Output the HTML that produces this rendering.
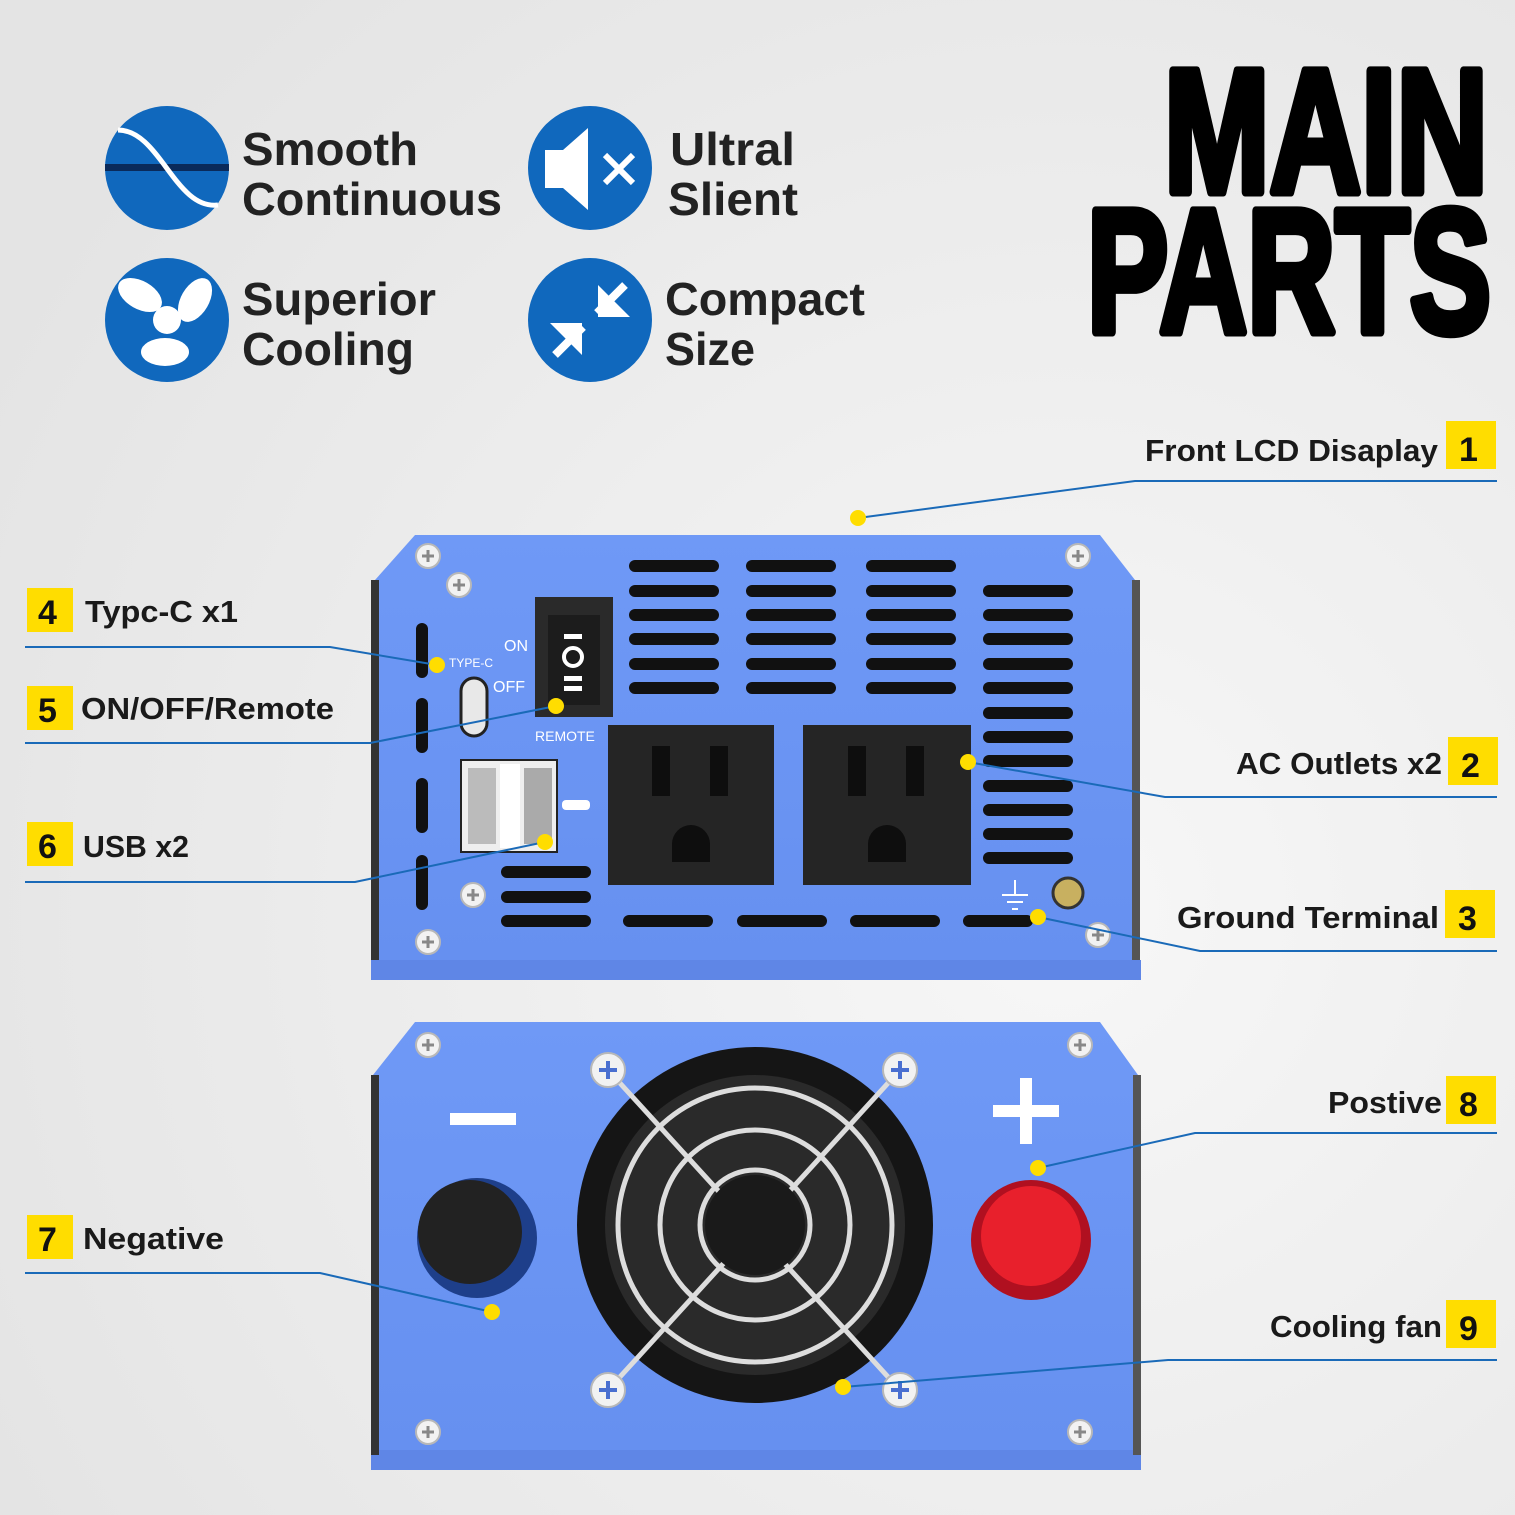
<!DOCTYPE html>
<html><head><meta charset="utf-8"><style>
html,body{margin:0;padding:0;width:1515px;height:1515px;overflow:hidden;background:#ececec}
svg{display:block}
text{font-family:"Liberation Sans",sans-serif;font-weight:bold}
</style></head><body>
<svg width="1515" height="1515" viewBox="0 0 1515 1515">
<defs>
<radialGradient id="bg" cx="0.7" cy="0.6" r="0.8"><stop offset="0" stop-color="#f7f7f7"/><stop offset="1" stop-color="#e4e4e4"/></radialGradient>
<linearGradient id="pan" x1="0" y1="0" x2="0" y2="1"><stop offset="0" stop-color="#6f99f6"/><stop offset="1" stop-color="#6690f0"/></linearGradient>
<g id="scr"><circle r="12" fill="#f2f2f2" stroke="#b8b8b8" stroke-width="2"/><path d="M-6 0H6M0 -6V6" stroke="#888" stroke-width="3"/></g>
<g id="scrB"><circle r="17" fill="#f2f2f2" stroke="#b8b8b8" stroke-width="2"/><path d="M-9 0H9M0 -9V9" stroke="#4a6fd0" stroke-width="4"/></g>
</defs>
<rect width="1515" height="1515" fill="url(#bg)"/>

<g fill="#1068bd">
<circle cx="167" cy="168" r="62"/><circle cx="590" cy="168" r="62"/>
<circle cx="167" cy="320" r="62"/><circle cx="590" cy="320" r="62"/>
</g>
<rect x="105" y="164" width="124" height="7" fill="#0a2a5a"/>
<path d="M118 130 C160 130,175 210,218 205" stroke="#fff" stroke-width="5" fill="none"/>
<path d="M545 150h18l25-22v82l-25-22h-18z" fill="#fff"/>
<path d="M605 155l28 28M633 155l-28 28" stroke="#fff" stroke-width="6"/>
<g fill="#fff"><circle cx="167" cy="320" r="14"/><ellipse cx="140" cy="295" rx="24" ry="14" transform="rotate(30 140 295)"/><ellipse cx="195" cy="300" rx="24" ry="14" transform="rotate(-60 195 300)"/><ellipse cx="165" cy="352" rx="24" ry="14" transform="rotate(0 165 352)"/></g>
<g stroke="#fff" stroke-width="8" fill="#fff"><path d="M625 285l-28 28"/><path d="M555 355l28-28"/></g>
<path d="M598 285v32h32z" fill="#fff"/><path d="M582 355v-32h-32z" fill="#fff"/>

<g fill="#222" font-size="46">
<text x="242" y="165" textLength="176" lengthAdjust="spacingAndGlyphs">Smooth</text>
<text x="242" y="215" textLength="260" lengthAdjust="spacingAndGlyphs">Continuous</text>
<text x="670" y="165" textLength="125" lengthAdjust="spacingAndGlyphs">Ultral</text>
<text x="668" y="215" textLength="130" lengthAdjust="spacingAndGlyphs">Slient</text>
<text x="242" y="315" textLength="194" lengthAdjust="spacingAndGlyphs">Superior</text>
<text x="242" y="365" textLength="172" lengthAdjust="spacingAndGlyphs">Cooling</text>
<text x="665" y="315" textLength="200" lengthAdjust="spacingAndGlyphs">Compact</text>
<text x="665" y="365" textLength="90" lengthAdjust="spacingAndGlyphs">Size</text>
</g>
<g fill="#000" stroke="#000" stroke-width="9" stroke-linejoin="round" font-size="176">
<text x="1164" y="192" textLength="324" lengthAdjust="spacingAndGlyphs">MAIN</text>
<text x="1087" y="332" textLength="404" lengthAdjust="spacingAndGlyphs">PARTS</text>
</g>

<path d="M415 535H1100L1135 580V968H375V580Z" fill="url(#pan)"/>
<rect x="371" y="960" width="770" height="20" fill="#5f86e6"/>
<rect x="371" y="580" width="8" height="380" fill="#333"/>
<rect x="1132" y="580" width="8" height="380" fill="#555"/>
<g fill="#111">
<rect x="629" y="560" width="90" height="12" rx="6"/><rect x="746" y="560" width="90" height="12" rx="6"/><rect x="866" y="560" width="90" height="12" rx="6"/>
<rect x="629" y="585" width="90" height="12" rx="6"/><rect x="746" y="585" width="90" height="12" rx="6"/><rect x="866" y="585" width="90" height="12" rx="6"/>
<rect x="629" y="609" width="90" height="12" rx="6"/><rect x="746" y="609" width="90" height="12" rx="6"/><rect x="866" y="609" width="90" height="12" rx="6"/>
<rect x="629" y="633" width="90" height="12" rx="6"/><rect x="746" y="633" width="90" height="12" rx="6"/><rect x="866" y="633" width="90" height="12" rx="6"/>
<rect x="629" y="658" width="90" height="12" rx="6"/><rect x="746" y="658" width="90" height="12" rx="6"/><rect x="866" y="658" width="90" height="12" rx="6"/>
<rect x="629" y="682" width="90" height="12" rx="6"/><rect x="746" y="682" width="90" height="12" rx="6"/><rect x="866" y="682" width="90" height="12" rx="6"/>
<rect x="983" y="585" width="90" height="12" rx="6"/><rect x="983" y="609" width="90" height="12" rx="6"/><rect x="983" y="633" width="90" height="12" rx="6"/><rect x="983" y="658" width="90" height="12" rx="6"/><rect x="983" y="682" width="90" height="12" rx="6"/><rect x="983" y="707" width="90" height="12" rx="6"/><rect x="983" y="731" width="90" height="12" rx="6"/><rect x="983" y="755" width="90" height="12" rx="6"/><rect x="983" y="780" width="90" height="12" rx="6"/><rect x="983" y="804" width="90" height="12" rx="6"/><rect x="983" y="828" width="90" height="12" rx="6"/><rect x="983" y="852" width="90" height="12" rx="6"/>
<rect x="501" y="866" width="90" height="12" rx="6"/><rect x="501" y="891" width="90" height="12" rx="6"/><rect x="501" y="915" width="90" height="12" rx="6"/>
<rect x="623" y="915" width="90" height="12" rx="6"/><rect x="737" y="915" width="90" height="12" rx="6"/><rect x="850" y="915" width="90" height="12" rx="6"/><rect x="963" y="915" width="70" height="12" rx="6"/>
<rect x="416" y="623" width="12" height="55" rx="6"/><rect x="416" y="698" width="12" height="55" rx="6"/><rect x="416" y="778" width="12" height="55" rx="6"/><rect x="416" y="855" width="12" height="55" rx="6"/>
</g>
<rect x="535" y="597" width="78" height="120" fill="#2a2a2a"/>
<rect x="548" y="615" width="52" height="90" fill="#1c1c1c"/>
<rect x="564" y="634" width="18" height="5" fill="#fff"/>
<circle cx="573" cy="657" r="9" fill="none" stroke="#fff" stroke-width="4"/>
<rect x="564" y="676" width="18" height="5" fill="#fff"/><rect x="564" y="686" width="18" height="5" fill="#fff"/>
<g fill="#fff" font-size="16"><text x="504" y="651" style="font-weight:normal">ON</text><text x="493" y="692" style="font-weight:normal">OFF</text><text x="535" y="741" font-size="14" style="font-weight:normal">REMOTE</text><text x="449" y="667" font-size="12" style="font-weight:normal">TYPE-C</text></g>
<rect x="461" y="678" width="26" height="58" rx="13" fill="#e8e8e8" stroke="#222" stroke-width="3"/>
<rect x="461" y="760" width="96" height="92" fill="#eee" stroke="#222" stroke-width="2"/>
<rect x="500" y="764" width="20" height="84" fill="#fff"/><rect x="468" y="768" width="28" height="76" fill="#bbb"/><rect x="524" y="768" width="28" height="76" fill="#aaa"/>
<rect x="562" y="800" width="28" height="10" rx="4" fill="#fff"/>
<g fill="#252525"><rect x="608" y="725" width="166" height="160"/><rect x="803" y="725" width="168" height="160"/></g>
<g fill="#0e0e0e"><rect x="652" y="746" width="18" height="50"/><rect x="710" y="746" width="18" height="50"/><rect x="848" y="746" width="18" height="50"/><rect x="906" y="746" width="18" height="50"/>
<path d="M672 862v-18a19 19 0 0 1 38 0v18z"/><path d="M868 862v-18a19 19 0 0 1 38 0v18z"/></g>
<circle cx="1068" cy="893" r="15" fill="#c8b060" stroke="#333" stroke-width="3"/>
<path d="M1015 880v15M1002 895h26M1007 902h16M1012 909h6" stroke="#fff" stroke-width="2"/>
<use href="#scr" x="428" y="556"/><use href="#scr" x="459" y="585"/><use href="#scr" x="1078" y="556"/><use href="#scr" x="428" y="942"/><use href="#scr" x="473" y="895"/><use href="#scr" x="1098" y="935"/>

<path d="M415 1022H1100L1138 1075V1455H373V1075Z" fill="url(#pan)"/>
<rect x="371" y="1450" width="770" height="20" fill="#5f86e6"/>
<rect x="371" y="1075" width="8" height="380" fill="#333"/><rect x="1133" y="1075" width="8" height="380" fill="#555"/>
<circle cx="755" cy="1225" r="178" fill="#151515"/>
<circle cx="755" cy="1225" r="150" fill="#2a2a2a"/>
<g fill="none" stroke="#ddd" stroke-width="5">
<circle cx="755" cy="1225" r="55"/><circle cx="755" cy="1225" r="95"/><circle cx="755" cy="1225" r="137"/>
<path d="M608 1070L900 1390M900 1070L608 1390"/>
</g>
<circle cx="755" cy="1225" r="50" fill="#1a1a1a"/>
<use href="#scrB" x="608" y="1070"/><use href="#scrB" x="900" y="1070"/><use href="#scrB" x="608" y="1390"/><use href="#scrB" x="900" y="1390"/>
<use href="#scr" x="428" y="1045"/><use href="#scr" x="1080" y="1045"/><use href="#scr" x="428" y="1432"/><use href="#scr" x="1080" y="1432"/>
<rect x="450" y="1113" width="66" height="12" fill="#fff"/>
<rect x="993" y="1105" width="66" height="12" fill="#fff"/><rect x="1020" y="1078" width="12" height="66" fill="#fff"/>
<circle cx="477" cy="1238" r="60" fill="#1e3f8a"/><circle cx="470" cy="1232" r="52" fill="#222"/>
<circle cx="1031" cy="1240" r="60" fill="#b01020"/><circle cx="1031" cy="1236" r="50" fill="#e8202c"/>

<g stroke="#1a6ab8" stroke-width="2" fill="none">
<path d="M1497 481H1135L858 518"/>
<path d="M1497 797H1165L968 762"/>
<path d="M1497 951H1200L1038 917"/>
<path d="M25 647H330L437 665"/>
<path d="M25 743H370L556 706"/>
<path d="M25 882H355L545 842"/>
<path d="M1497 1133H1195L1038 1168"/>
<path d="M25 1273H320L492 1312"/>
<path d="M1497 1360H1168L843 1387"/>
</g>
<g fill="#ffdd00">
<circle cx="858" cy="518" r="8"/><circle cx="968" cy="762" r="8"/><circle cx="1038" cy="917" r="8"/><circle cx="437" cy="665" r="8"/><circle cx="556" cy="706" r="8"/><circle cx="545" cy="842" r="8"/><circle cx="1038" cy="1168" r="8"/><circle cx="492" cy="1312" r="8"/><circle cx="843" cy="1387" r="8"/>
<rect x="1446" y="421" width="50" height="48"/><rect x="1448" y="737" width="50" height="48"/><rect x="1445" y="890" width="50" height="48"/>
<rect x="27" y="588" width="46" height="44"/><rect x="27" y="686" width="46" height="44"/><rect x="27" y="822" width="46" height="44"/>
<rect x="1446" y="1076" width="50" height="48"/><rect x="27" y="1215" width="46" height="44"/><rect x="1446" y="1300" width="50" height="48"/>
</g>
<g fill="#111" font-size="34">
<text x="1459" y="461">1</text><text x="1461" y="777">2</text><text x="1458" y="930">3</text>
<text x="38" y="624">4</text><text x="38" y="722">5</text><text x="38" y="858">6</text>
<text x="1459" y="1116">8</text><text x="38" y="1251">7</text><text x="1459" y="1340">9</text>
</g>
<g fill="#1a1a1a" font-size="31">
<text x="1145" y="461" textLength="293" lengthAdjust="spacingAndGlyphs">Front LCD Disaplay</text>
<text x="1236" y="774" textLength="206" lengthAdjust="spacingAndGlyphs">AC Outlets x2</text>
<text x="1177" y="928" textLength="262" lengthAdjust="spacingAndGlyphs">Ground Terminal</text>
<text x="85" y="622" textLength="153" lengthAdjust="spacingAndGlyphs">Typc-C  x1</text>
<text x="81" y="719" textLength="253" lengthAdjust="spacingAndGlyphs">ON/OFF/Remote</text>
<text x="83" y="857" textLength="106" lengthAdjust="spacingAndGlyphs">USB x2</text>
<text x="1328" y="1113" textLength="114" lengthAdjust="spacingAndGlyphs">Postive</text>
<text x="83" y="1249" textLength="141" lengthAdjust="spacingAndGlyphs">Negative</text>
<text x="1270" y="1337" textLength="172" lengthAdjust="spacingAndGlyphs">Cooling fan</text>
</g>
</svg>
</body></html>
